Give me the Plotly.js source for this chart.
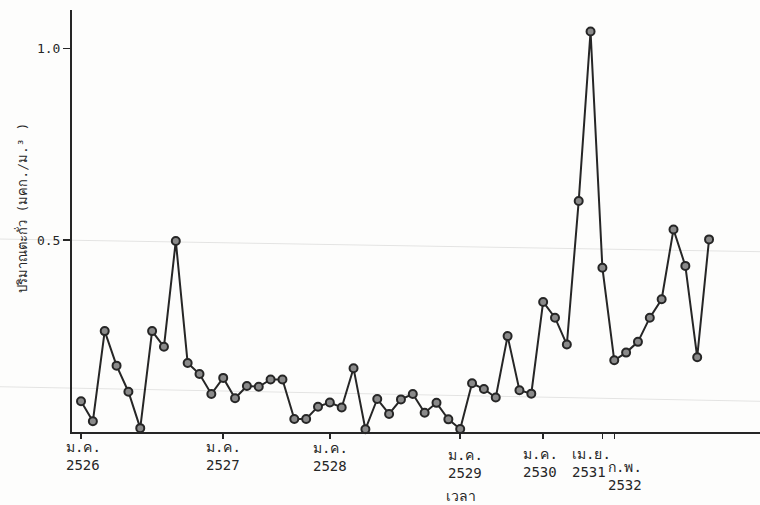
<!DOCTYPE html>
<html>
<head>
<meta charset="utf-8">
<script src="https://cdn.plot.ly/plotly-3.0.1.min.js"></script>
<style>html,body{margin:0;padding:0;background:#fdfdfc;}</style>
</head>
<body>
<div id="chart" style="width:760px;height:505px;"></div>
<script>
// Lead concentration samples, in plotting order (index = sample number)
const leadValues = [
  0.080, 0.028, 0.263, 0.173, 0.105, 0.010, 0.263, 0.222, 0.498, 0.180,
  0.151, 0.099, 0.141, 0.088, 0.120, 0.118, 0.137, 0.137, 0.034, 0.034,
  0.066, 0.077, 0.064, 0.166, 0.007, 0.086, 0.047, 0.085, 0.099, 0.050,
  0.076, 0.033, 0.008, 0.127, 0.112, 0.090, 0.250, 0.109, 0.100, 0.339,
  0.298, 0.228, 0.602, 1.044, 0.428, 0.187, 0.207, 0.235, 0.298, 0.346,
  0.528, 0.433, 0.195, 0.502
];
const sampleIndex = leadValues.map((v, i) => i);

// Date ticks (sample index where each date falls)
const dateTickIndex = [0, 12, 21, 32, 39, 44, 45];
const dateTickMonth = ["ม.ค.", "ม.ค.", "ม.ค.", "ม.ค.", "ม.ค.", "เม.ย.", "ก.พ."];
const dateTickYear  = ["2526", "2527", "2528", "2529", "2530", "2531", "2532"];

const yTickVals = [0.5, 1.0];
const yTickText = ["0.5", "1.0"];

const yTitle = "ปริมาณตะกั่ว (มคก./ม.³ )";
const xTitle = "เวลา";

// label placement tweaks (pixels)
const labelDX = [2, 0, 1, 5, -3, -11, 11];
const labelDY = [-5, -5, -6, -13, -12, -12, -25];

const ink = "#262626";
const font = "DejaVu Sans Mono, Liberation Mono, monospace";

const annotations = dateTickIndex.map((xi, k) => ({
  x: xi, xref: "x", y: 0, yref: "paper",
  xanchor: "center", yanchor: "top",
  xshift: labelDX[k], yshift: labelDY[k],
  showarrow: false, align: "left",
  text: dateTickMonth[k] + "<br>" + dateTickYear[k],
  font: {family: font, size: 14, color: ink}
}));
annotations.push({
  x: 0.565, xref: "paper", y: 0, yref: "paper",
  xanchor: "center", yanchor: "top", yshift: -54,
  showarrow: false, text: xTitle,
  font: {family: font, size: 14, color: ink}
});
annotations.push({
  x: 0, xref: "paper", y: 0.53, yref: "paper",
  xanchor: "center", yanchor: "middle", xshift: -50,
  textangle: -90, showarrow: false, text: yTitle,
  font: {family: font, size: 13, color: ink}
});

const trace = {
  x: sampleIndex, y: leadValues,
  type: "scatter", mode: "lines+markers",
  line: {color: ink, width: 2},
  marker: {symbol: "circle", size: 8, color: "#8a8a8a", line: {color: ink, width: 2}},
  cliponaxis: false,
  hoverinfo: "y"
};

const layout = {
  width: 760, height: 505,
  margin: {l: 72, r: 0, t: 10, b: 73, pad: 0},
  paper_bgcolor: "#fdfdfc", plot_bgcolor: "#fdfdfc",
  showlegend: false,
  xaxis: {
    range: [-0.76, 57.3],
    tickmode: "array", tickvals: dateTickIndex,
    showticklabels: false,
    ticks: "outside", ticklen: 5, tickwidth: 1.5, tickcolor: ink,
    showline: true, linecolor: ink, linewidth: 2,
    showgrid: false, zeroline: false
  },
  yaxis: {
    range: [0, 1.10],
    tickmode: "array", tickvals: yTickVals, ticktext: yTickText,
    ticks: "outside", ticklen: 7, tickwidth: 1.5, tickcolor: ink,
    tickfont: {family: font, size: 13, color: ink},
    showline: true, linecolor: ink, linewidth: 2,
    showgrid: false, zeroline: false
  },
  shapes: [
    {type: "line", xref: "paper", yref: "y", x0: -0.105, x1: 1, y0: 0.503, y1: 0.47,
     line: {color: "rgba(0,0,0,0.10)", width: 1}, layer: "below"},
    {type: "line", xref: "paper", yref: "y", x0: -0.105, x1: 1, y0: 0.118, y1: 0.08,
     line: {color: "rgba(0,0,0,0.10)", width: 1}, layer: "below"}
  ],
  annotations: annotations
};

Plotly.newPlot("chart", [trace], layout, {displayModeBar: false, staticPlot: true});
</script>
</body>
</html>
